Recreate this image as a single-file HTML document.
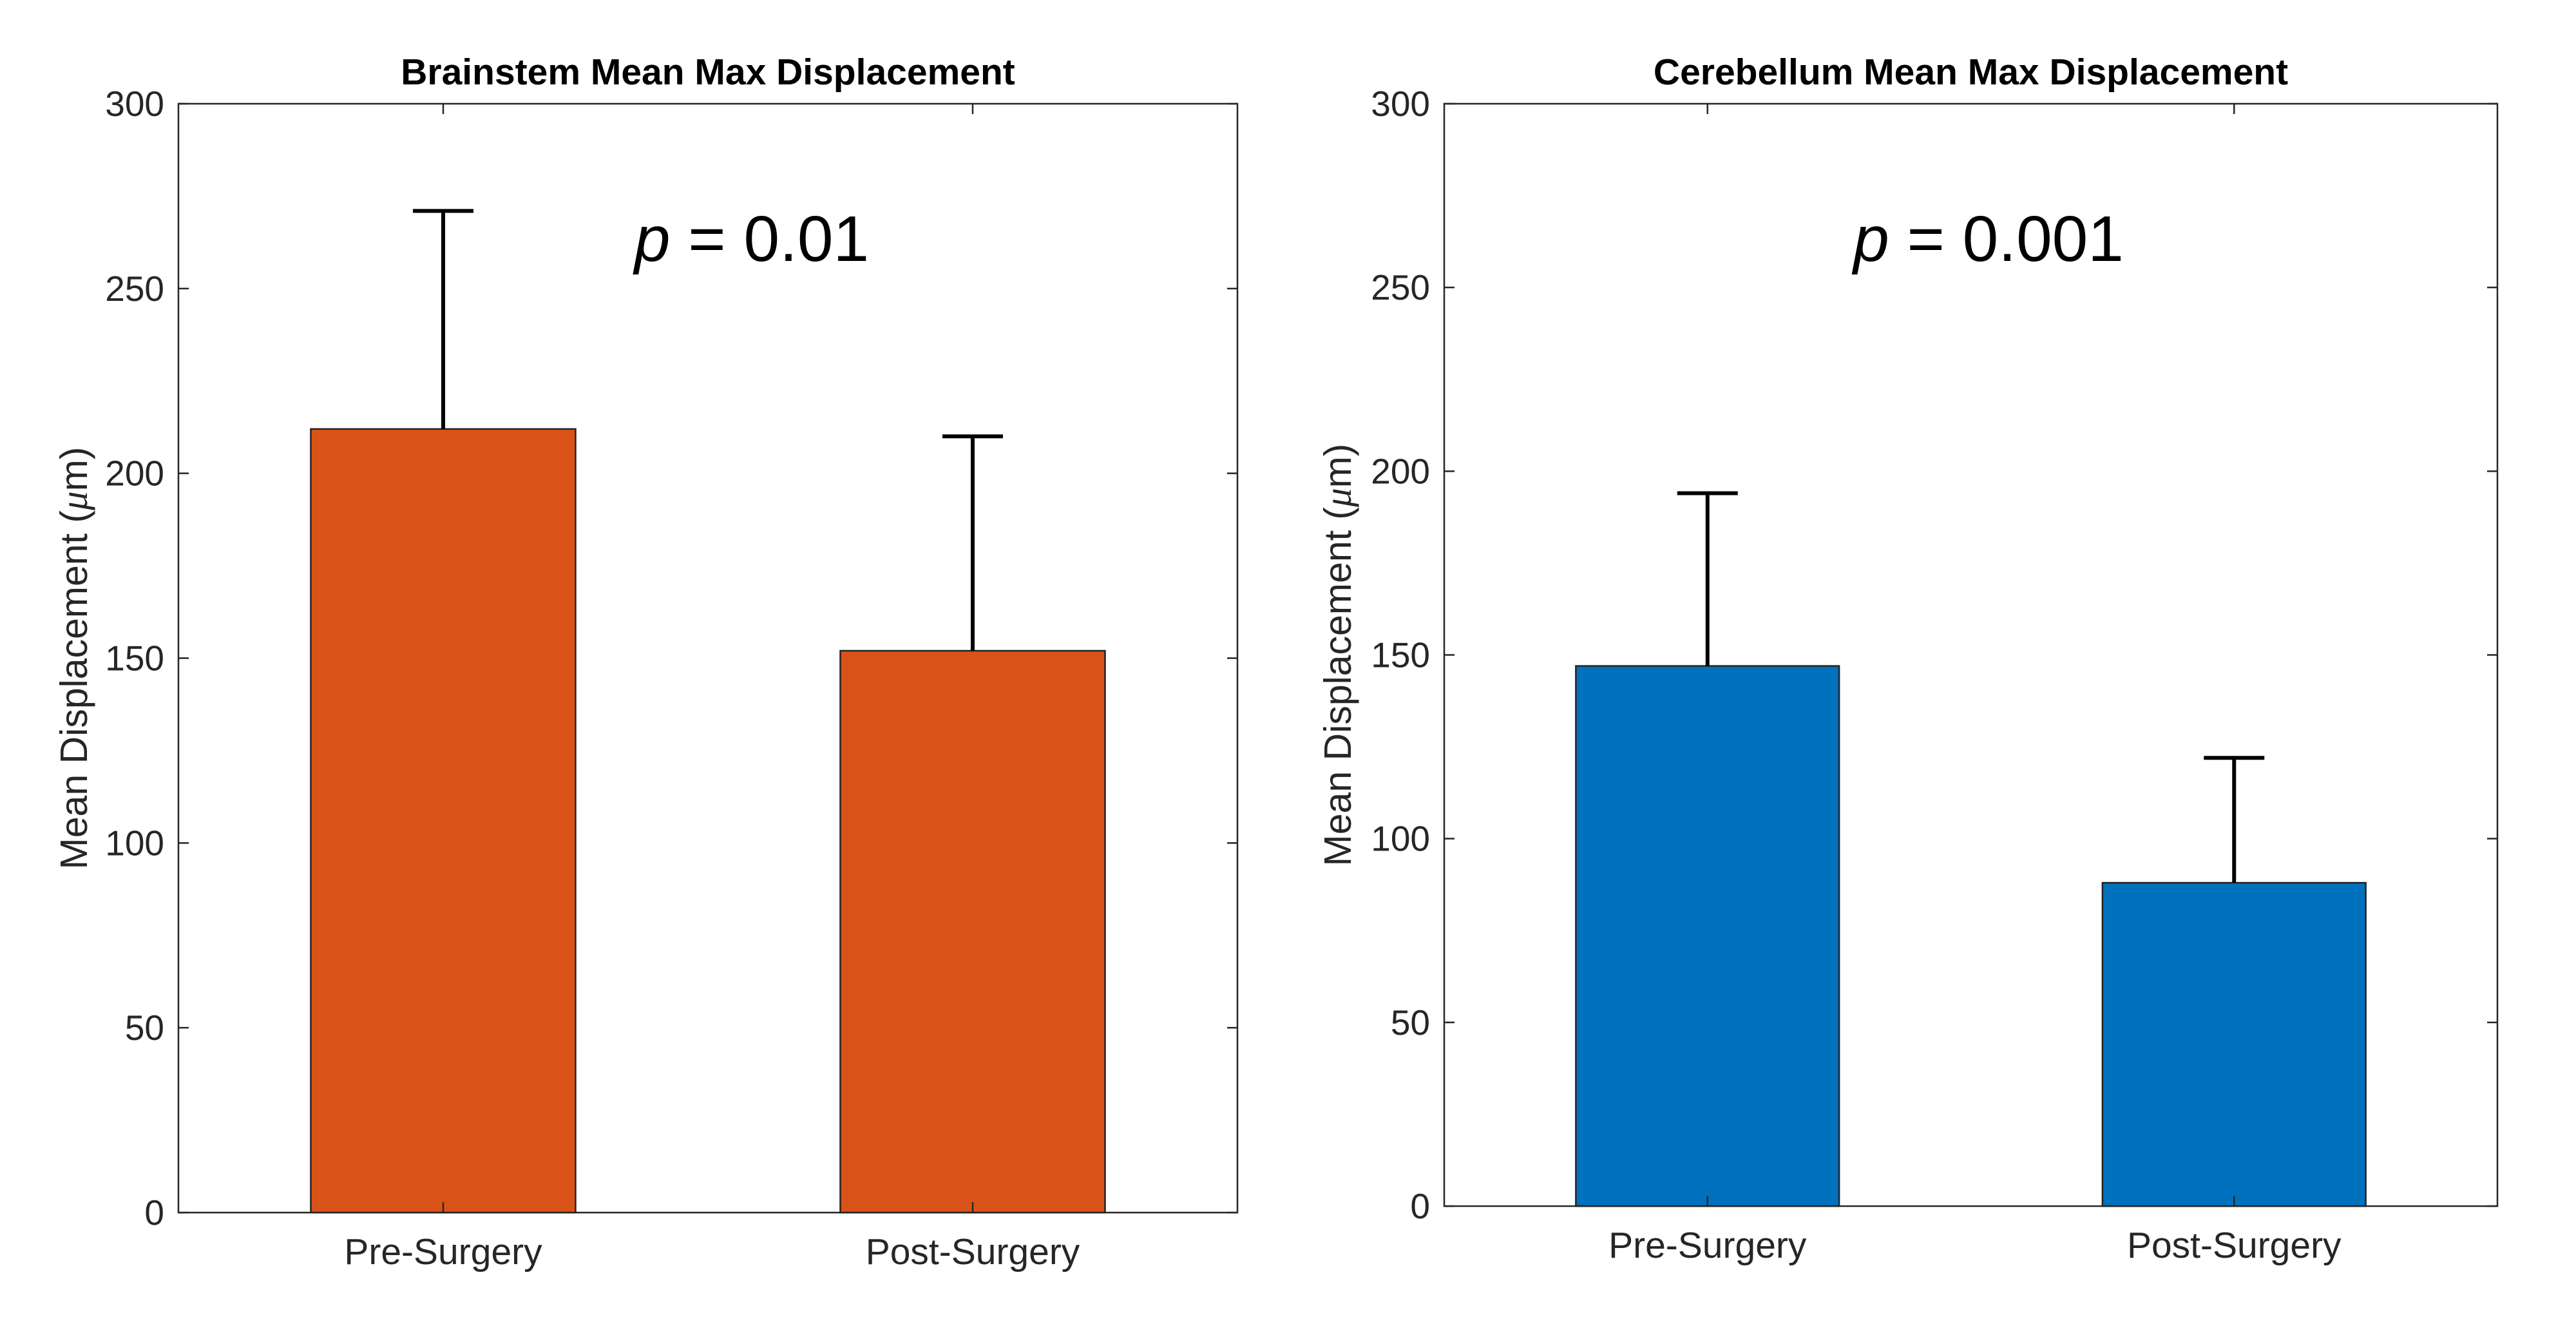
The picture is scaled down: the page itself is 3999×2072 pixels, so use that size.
<!DOCTYPE html>
<html><head><meta charset="utf-8"><style>
html,body{margin:0;padding:0;background:#fff}
svg{display:block}
text{font-family:"Liberation Sans",sans-serif}
</style></head><body>
<svg id="fig" width="3999" height="2072" viewBox="0 0 3999 2072" xmlns="http://www.w3.org/2000/svg"></svg>
<script>
const categories = ["Pre-Surgery", "Post-Surgery"];
const brainstemMeans = [212, 152];
const brainstemErrors = [59, 58];
const cerebellumMeans = [147, 88];
const cerebellumErrors = [47, 34];
const yTicks = [0, 50, 100, 150, 200, 250, 300];
const titles = ["Brainstem Mean Max Displacement", "Cerebellum Mean Max Displacement"];
const pLabels = ["0.01", "0.001"];

const svg = document.getElementById('fig');
const NS = 'http://www.w3.org/2000/svg';
function mk(tag, attrs, parent) {
  const e = document.createElementNS(NS, tag);
  for (const k in attrs) e.setAttribute(k, attrs[k]);
  (parent || svg).appendChild(e);
  return e;
}

function drawPanel(cfg) {
  const g = mk('g', {});
  
  
  const L = cfg.left, R = cfg.right, T = cfg.top, B = cfg.bottom;
  const ymax = 300;
  const y = v => B - (v / ymax) * (B - T);
  const xc = i => L + (R - L) * (i + 0.5) / categories.length;
  const bw = (R - L) / categories.length * 0.5;

  cfg.means.forEach((m, i) => {
    const r = mk('rect', {x: xc(i) - bw / 2, y: y(m), width: bw, height: y(0) - y(m), fill: cfg.color, stroke: '#222', 'stroke-width': 2.5}, g);
    
    
    const top = m + cfg.errors[i];
    const e = mk('path', {d: `M${xc(i)},${y(m)}V${y(top)}M${xc(i) - 47},${y(top)}H${xc(i) + 47}`, stroke: '#000', 'stroke-width': 6, fill: 'none'}, g);
    
    
  });

  const box = mk('rect', {x: L, y: T, width: R - L, height: B - T, fill: 'none', stroke: '#262626', 'stroke-width': 2.5}, g);
  
  

  yTicks.forEach(t => {
    const tk = mk('path', {d: `M${L},${y(t)}h16M${R},${y(t)}h-16`, stroke: '#262626', 'stroke-width': 2.5}, g);
    
    
    const lb = mk('text', {x: L - 22, y: y(t) + 19, 'text-anchor': 'end', 'font-size': 55, fill: '#262626'}, g);
    lb.textContent = t;
    
    
  });
  categories.forEach((c, i) => {
    const tk = mk('path', {d: `M${xc(i)},${B}v-16M${xc(i)},${T}v16`, stroke: '#262626', 'stroke-width': 2.5}, g);
    
    
    const lb = mk('text', {x: xc(i), y: B + 80, 'text-anchor': 'middle', 'font-size': 57, fill: '#262626'}, g);
    lb.textContent = c;
    
    
  });
  const tt = mk('text', {x: (L + R) / 2, y: T - 30, 'text-anchor': 'middle', 'font-size': 57, 'font-weight': 'bold', fill: '#000'}, g);
  tt.textContent = cfg.title;
  
  
  const yl = mk('text', {x: 0, y: 0, transform: `translate(${cfg.ylx},${(T + B) / 2}) rotate(-90)`, 'text-anchor': 'middle', 'font-size': 59, fill: '#262626'}, g);
  yl.innerHTML = 'Mean Displacement (<tspan font-style="italic" font-family="Liberation Serif, serif">μ</tspan>m)';
  
  
  const p = mk('text', {x: cfg.px, y: 405, 'text-anchor': 'middle', 'font-size': 100, fill: '#000'}, g);
  p.innerHTML = '<tspan font-style="italic">p</tspan> = ' + cfg.p;
  
  
}

drawPanel({name: 'brainstem-chart', left: 277, right: 1921, top: 161, bottom: 1882, color: '#D95319', means: brainstemMeans, errors: brainstemErrors, title: titles[0], p: pLabels[0], ylx: 135, px: 1167});
drawPanel({name: 'cerebellum-chart', left: 2242, right: 3877, top: 161, bottom: 1872, color: '#0072BD', means: cerebellumMeans, errors: cerebellumErrors, title: titles[1], p: pLabels[1], ylx: 2097, px: 3087});
</script>
</body></html>
